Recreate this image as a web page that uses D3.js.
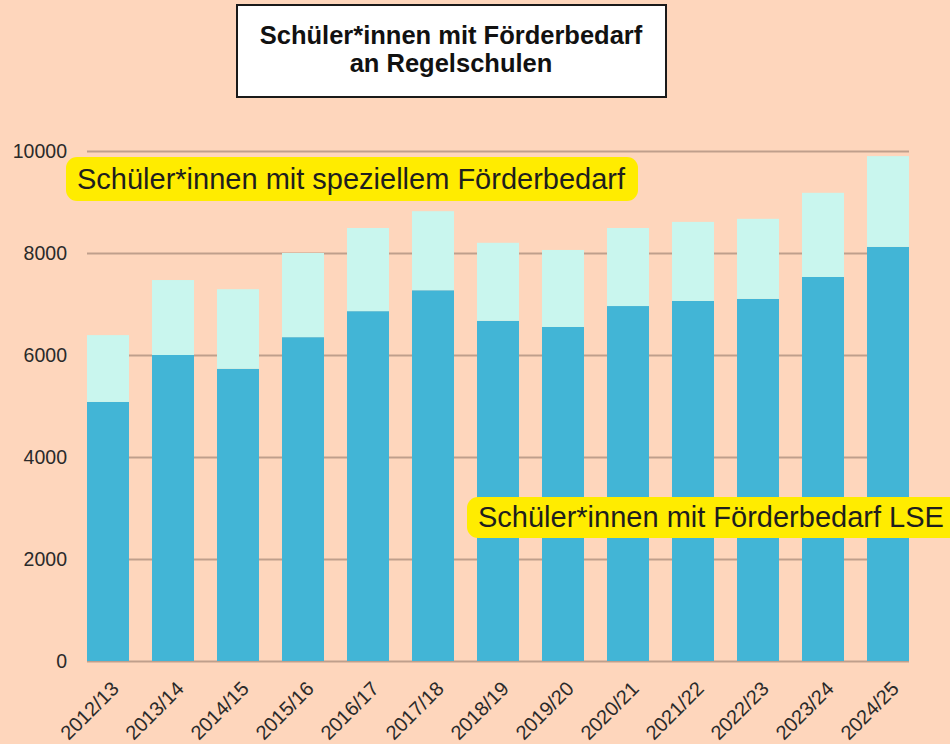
<!DOCTYPE html>
<html>
<head>
<meta charset="utf-8">
<script src="https://cdn.jsdelivr.net/npm/d3@7"></script>
<style>
  html, body { margin: 0; padding: 0; background: #fed6bc; }
  svg { display: block; font-family: "Liberation Sans", Arial, sans-serif; }
  .grid line { stroke: #bf9f8c; stroke-width: 2; }
  .grid .domain { display: none; }
  .yaxis text, .xaxis text { fill: #2a2a2a; }
</style>
</head>
<body>
<script>
// school years on the x axis
var years = ["2012/13", "2013/14", "2014/15", "2015/16", "2016/17", "2017/18", "2018/19",
             "2019/20", "2020/21", "2021/22", "2022/23", "2023/24", "2024/25"];

// pupils with LSE support needs (lower part of each bar)
var lse = [5080, 6000, 5730, 6350, 6860, 7270, 6670, 6550, 6960, 7060, 7100, 7530, 8120];

// pupils with special support needs (upper part, stacked on top)
var special = [1310, 1470, 1560, 1650, 1630, 1550, 1530, 1510, 1530, 1550, 1570, 1650, 1780];

var yTicks = [0, 2000, 4000, 6000, 8000, 10000];

var titleLines = ["Schüler*innen mit Förderbedarf", "an Regelschulen"];
var labelSpecial = "Schüler*innen mit speziellem Förderbedarf";
var labelLse = "Schüler*innen mit Förderbedarf LSE";

var width = 950,
    height = 744;

var margin = {top: 151, right: 41, bottom: 83, left: 87};

var svg = d3.select("body")
    .append("svg")
    .attr("width", width)
    .attr("height", height);

// background
svg.append("rect")
    .attr("width", width)
    .attr("height", height)
    .attr("fill", "#fed6bc");

var x = d3.scaleBand()
    .domain(years)
    .range([margin.left, width - margin.right])
    .paddingInner(0.354)
    .paddingOuter(0);

var y = d3.scaleLinear()
    .domain([0, 10000])
    .range([height - margin.bottom, margin.top]);

// gridlines
svg.append("g")
    .attr("class", "grid")
    .attr("transform", "translate(" + margin.left + ",0)")
    .call(d3.axisLeft(y).tickValues(yTicks).tickSize(-(width - margin.right - margin.left)).tickFormat(""));

// y labels
var yAxis = svg.append("g")
    .attr("class", "yaxis")
    .attr("transform", "translate(" + (margin.left - 17) + ",0)")
    .call(d3.axisLeft(y).tickValues(yTicks).tickSize(0).tickFormat(d3.format("d")));
yAxis.select(".domain").remove();
yAxis.selectAll("text")
    .attr("font-size", 19.5)
    .attr("font-family", "Liberation Sans, Arial, sans-serif");

// stacked bars
var rows = years.map(function(d, i) {
    return {year: d, lse: lse[i], special: special[i]};
});
var stack = d3.stack().keys(["lse", "special"]);
var colors = {lse: "#42b5d6", special: "#c9f6ee"};

svg.selectAll(".series")
    .data(stack(rows))
    .enter()
    .append("g")
    .attr("class", "series")
    .attr("fill", function(d) { return colors[d.key]; })
    .selectAll("rect")
    .data(function(d) { return d; })
    .enter()
    .append("rect")
    .attr("x", function(d) { return x(d.data.year); })
    .attr("y", function(d) { return y(d[1]); })
    .attr("width", x.bandwidth())
    .attr("height", function(d) { return y(d[0]) - y(d[1]); });

// x labels, rotated
var xAxis = svg.append("g")
    .attr("class", "xaxis");
xAxis.selectAll("text")
    .data(years)
    .enter()
    .append("text")
    .attr("transform", function(d) {
        return "translate(" + (x(d) + x.bandwidth() / 2 + 12) + "," + (height - margin.bottom + 29) + ") rotate(-45)";
    })
    .attr("text-anchor", "end")
    .attr("font-size", 20)
    .text(function(d) { return d; });

// title box
var title = svg.append("g");
title.append("rect")
    .attr("x", 237)
    .attr("y", 5)
    .attr("width", 429)
    .attr("height", 92)
    .attr("fill", "#ffffff")
    .attr("stroke", "#1a1a1a")
    .attr("stroke-width", 2);
title.selectAll("text")
    .data(titleLines)
    .enter()
    .append("text")
    .attr("x", 451)
    .attr("y", function(d, i) { return 44 + i * 28; })
    .attr("text-anchor", "middle")
    .attr("font-size", 25.5)
    .attr("font-weight", "bold")
    .attr("fill", "#111")
    .text(function(d) { return d; });

// yellow series labels
function addLabel(txt, bx, by, bw, bh, tx, ty) {
    var g = svg.append("g");
    g.append("rect")
        .attr("x", bx)
        .attr("y", by)
        .attr("width", bw)
        .attr("height", bh)
        .attr("rx", 11)
        .attr("fill", "#ffec00");
    g.append("text")
        .attr("x", tx)
        .attr("y", ty)
        .attr("font-size", 29)
        .attr("fill", "#1e1e1e")
        .text(txt);
}
addLabel(labelSpecial, 66, 157, 572, 44, 77, 189);
addLabel(labelLse, 467, 497, 500, 41, 478, 527);
</script>
</body>
</html>
